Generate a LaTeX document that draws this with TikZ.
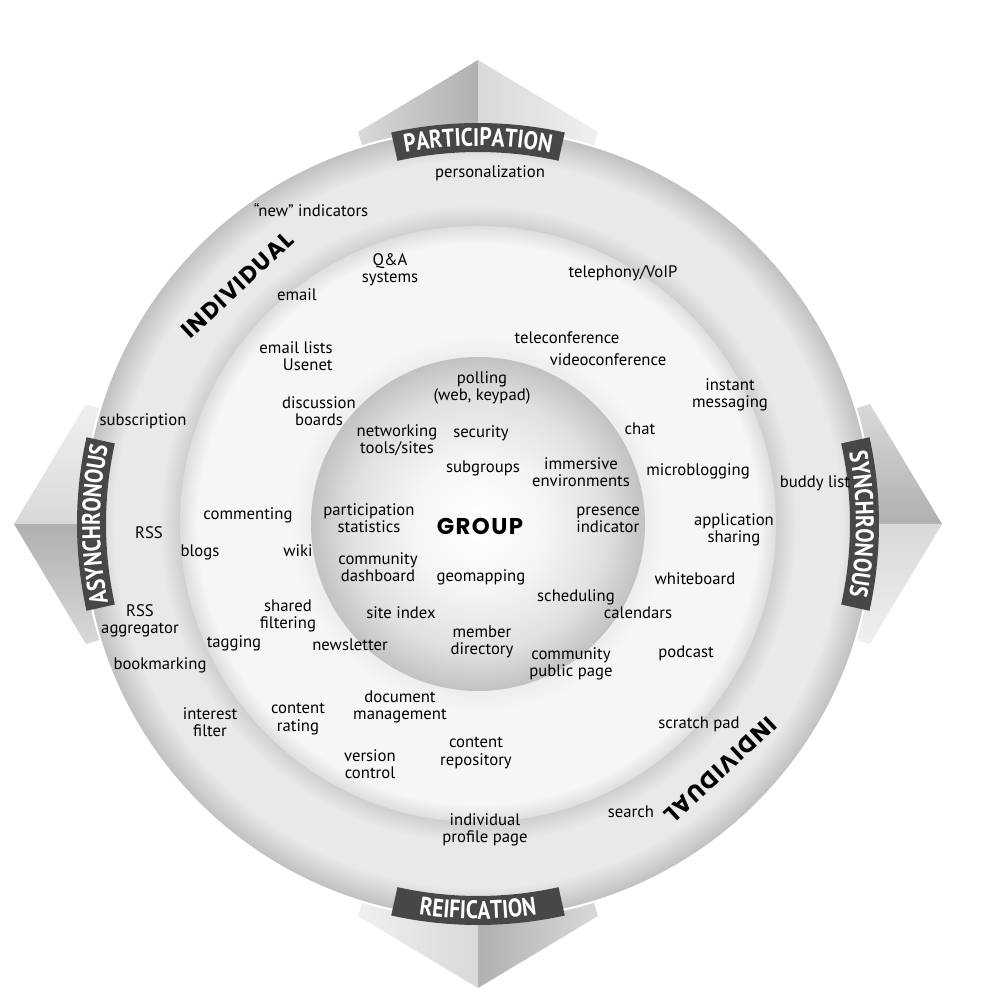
\documentclass[tikz,border=0pt]{standalone}
\usepackage{fontspec}
\setmainfont{PT Sans}
\newfontfamily\heavyfont{Poppins}[LetterSpace=6]
\newfontfamily\bannerfont{PT Sans}[FakeStretch=0.84]
\usetikzlibrary{decorations.text}

\newcommand\labelfont{\fontsize{9.5}{9.8}\selectfont}
\newcommand\bannerstyle{\bannerfont\bfseries\fontsize{14.5}{14.5}\selectfont}

\colorlet{outerA}{gray!14}
\colorlet{outerB}{gray!42}
\colorlet{outerC}{gray!17}
\colorlet{outerD}{gray!50}
\colorlet{midA}{gray!3}
\colorlet{midB}{gray!14}
\colorlet{midC}{gray!7}
\colorlet{midD}{gray!26}
\colorlet{innerA}{white}
\colorlet{innerB}{gray!8}
\colorlet{innerC}{gray!24}
\colorlet{innerD}{gray!48}
\colorlet{wingridge}{gray!62}
\colorlet{wingmid}{gray!30}
\colorlet{wingpale}{gray!12}

\pgfdeclareradialshading{outerdisc}{\pgfpoint{0bp}{0bp}}{color(0bp)=(outerA); color(18.6bp)=(outerB); color(20.2bp)=(outerC); color(23bp)=(outerC); color(25bp)=(outerD); color(50bp)=(outerD)}
\pgfdeclareradialshading{middisc}{\pgfpoint{0bp}{0bp}}{color(0bp)=(midA); color(14bp)=(midB); color(15.8bp)=(midC); color(23.5bp)=(midC); color(25bp)=(midD); color(50bp)=(midD)}
\pgfdeclareradialshading{innerdisc}{\pgfpoint{0bp}{0bp}}{color(0bp)=(innerA); color(10bp)=(innerB); color(19bp)=(innerC); color(25bp)=(innerD); color(50bp)=(innerD)}

\begin{document}
\begin{tikzpicture}[
    x=0.02cm, y=0.02cm,
    lbl/.style={font=\labelfont, align=center, inner sep=0pt},
    heavy/.style={font=\heavyfont\bfseries\fontsize{13}{13}\selectfont, inner sep=0pt},
    ribbon/.style={fill=black!72},
    bannertext/.style={decorate, decoration={text along path, text align=center, text color=white}}
]
\useasboundingbox (-478,-469) rectangle (519,524);

% Wings
\shade[left color=wingmid, right color=wingridge] (0,0) -- (0,464) -- (-120,392) -- cycle;
\shade[left color=wingmid, right color=wingpale] (0,0) -- (0,464) -- (120,392) -- cycle;
\shade[top color=wingmid, bottom color=wingridge] (0,0) -- (464,0) -- (392,120) -- cycle;
\shade[top color=wingmid, bottom color=wingpale] (0,0) -- (464,0) -- (392,-120) -- cycle;
\shade[left color=wingridge, right color=wingmid] (0,0) -- (0,-464) -- (120,-392) -- cycle;
\shade[left color=wingpale, right color=wingmid] (0,0) -- (0,-464) -- (-120,-392) -- cycle;
\shade[top color=wingridge, bottom color=wingmid] (0,0) -- (-464,0) -- (-392,-120) -- cycle;
\shade[top color=wingpale, bottom color=wingmid] (0,0) -- (-464,0) -- (-392,120) -- cycle;

% Rings
\path[shade, shading=outerdisc, draw=white, line width=1.2pt] (0,0) circle (395);
\path[shade, shading=middisc] (0,0) circle (298);
\path[shade, shading=innerdisc] (0,0) circle (167);

% Ribbons
\foreach \a in {0,90,180,270}
    \fill[ribbon] (\a-12.5:372) arc[start angle=\a-12.5, end angle=\a+12.5, radius=372]
        -- (\a+12.5:401) arc[start angle=\a+12.5, end angle=\a-12.5, radius=401] -- cycle;

\path[bannertext, decoration={text={|\bannerstyle|PARTICIPATION}}] (103:378) arc[start angle=103, end angle=77, radius=378];
\path[bannertext, decoration={text={|\bannerstyle|SYNCHRONOUS}}] (13:378) arc[start angle=13, end angle=-13, radius=378];
\path[bannertext, decoration={text={|\bannerstyle|REIFICATION}}] (257:395) arc[start angle=257, end angle=283, radius=395];
\path[bannertext, decoration={text={|\bannerstyle|ASYNCHRONOUS}}] (193:378) arc[start angle=193, end angle=167, radius=378];

% Outer ring
\node[lbl] (personal) at (12,351) {personalization};
\node[lbl] (newind) at (-167,314) {``new'' indicators};
\node[lbl] (subscr) at (-335,103) {subscription};
\node[lbl] (rss) at (-329,-9) {RSS};
\node[lbl] (rssagg) at (-338,-97) {RSS\\aggregator};
\node[lbl] (bookmark) at (-318,-141) {bookmarking};
\node[lbl] (buddy) at (337,41) {buddy list};
\node[lbl] (search) at (153,-288) {search};
\node[lbl] (profile) at (7,-306) {individual\\profile page};
\node[heavy, rotate=43] (indivA) at (-240,239) {INDIVIDUAL};
\node[heavy, rotate=223] (indivB) at (242,-246) {INDIVIDUAL};

% Middle ring
\node[lbl] (qa) at (-88,254) {Q\&A\\systems};
\node[lbl] (phone) at (145,251) {telephony/VoIP};
\node[lbl] (email) at (-181,229) {email};
\node[lbl, align=right, anchor=east] (lists) at (-145,168) {email lists\\Usenet};
\node[lbl] (telecon) at (89,186) {teleconference};
\node[lbl] (videocon) at (130,164) {videoconference};
\node[lbl] (im) at (252,129) {instant\\messaging};
\node[lbl] (boards) at (-159,113) {discussion\\boards};
\node[lbl] (chat) at (162,95) {chat};
\node[lbl] (micro) at (220,53) {microblogging};
\node[lbl] (comment) at (-230,9) {commenting};
\node[lbl] (appshare) at (256,-6) {application\\sharing};
\node[lbl] (blogs) at (-278,-28) {blogs};
\node[lbl] (wiki) at (-180,-27) {wiki};
\node[lbl] (whiteboard) at (217,-55) {whiteboard};
\node[lbl] (calendars) at (160,-89) {calendars};
\node[lbl] (shared) at (-190,-92) {shared\\filtering};
\node[lbl] (tagging) at (-244,-119) {tagging};
\node[lbl] (newsletter) at (-128,-121) {newsletter};
\node[lbl] (podcast) at (208,-129) {podcast};
\node[lbl] (docmgmt) at (-78,-183) {document\\management};
\node[lbl] (interest) at (-268,-198) {interest\\filter};
\node[lbl] (rating) at (-180,-195) {content\\rating};
\node[lbl] (scratch) at (221,-200) {scratch pad};
\node[lbl] (repo) at (-2,-229) {content\\repository};
\node[lbl] (version) at (-108,-240) {version\\control};

% Inner circle
\node[lbl] (polling) at (4,136) {polling\\(web, keypad)};
\node[lbl] (networking) at (-81,84) {networking\\tools/sites};
\node[lbl] (security) at (3,91) {security};
\node[lbl] (subgroups) at (5,56) {subgroups};
\node[lbl] (immersive) at (103,52) {immersive\\environments};
\node[lbl] (partstats) at (-109,6) {participation\\statistics};
\node[heavy] (group) at (2,-2) {GROUP};
\node[lbl, align=left, anchor=west] (presence) at (98,4) {presence\\indicator};
\node[lbl] (dashboard) at (-100,-43) {community\\dashboard};
\node[lbl] (geomap) at (3,-53) {geomapping};
\node[lbl] (scheduling) at (98,-73) {scheduling};
\node[lbl] (siteidx) at (-77,-89) {site index};
\node[lbl] (member) at (4,-118) {member\\directory};
\node[lbl] (publicpage) at (93,-140) {community\\public page};

\end{tikzpicture}
\end{document}
